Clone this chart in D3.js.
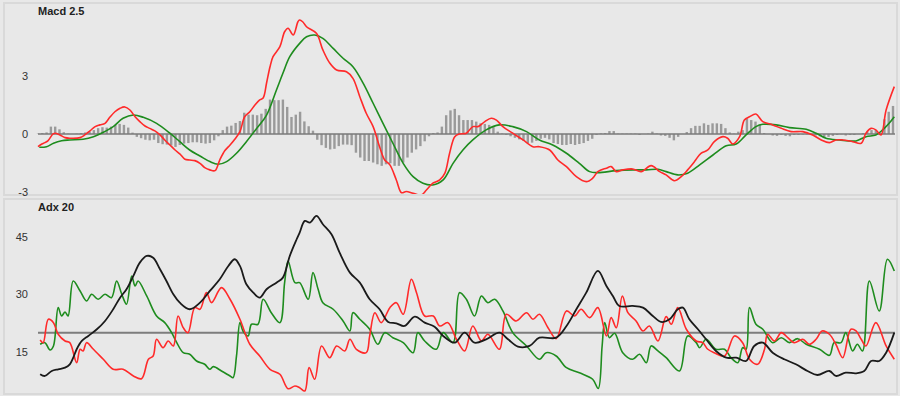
<!DOCTYPE html>
<html>
<head>
<meta charset="utf-8">
<script src="https://cdn.jsdelivr.net/npm/d3@7"></script>
<style>
    html, body { margin: 0; padding: 0; background: #e8e8e8; }
    svg { display: block; font-family: 'Liberation Sans', Arial, sans-serif; }
</style>
</head>
<body>
<svg width="900" height="396"></svg>
<script>
// ---------------------------------------------------------
// Data (day index, value)
const macdLine = [[0,-0.66],[0.9,-0.52],[1.6,-0.45],[2.3,-0.36],[3.5,0.0],[4.0,0.04],[5.1,-0.05],[6.3,-0.19],[7.4,-0.22],[9.8,-0.19],[10.9,-0.05],[12.1,0.16],[13.3,0.38],[14.4,0.47],[15.6,0.55],[16.7,0.86],[17.9,1.15],[19.1,1.33],[20.2,1.40],[21.4,1.24],[22.6,0.89],[23.7,0.64],[24.9,0.41],[26.0,0.29],[27.2,0.16],[28.4,-0.05],[29.5,-0.31],[30.7,-0.57],[31.9,-0.83],[33.0,-1.03],[34.2,-1.31],[35.3,-1.35],[36.5,-1.38],[37.7,-1.52],[38.8,-1.74],[40.0,-1.86],[41.2,-1.90],[42.3,-1.35],[43.5,-0.86],[44.7,-0.57],[45.8,-0.27],[47.0,0.12],[48.1,0.89],[49.3,1.15],[50.5,1.50],[51.6,1.76],[52.4,1.86],[53.2,2.64],[54.0,3.48],[54.7,4.00],[56.3,4.52],[57.4,5.29],[58.2,5.47],[59.4,5.12],[60.5,5.81],[60.9,5.90],[61.6,5.81],[62.5,5.55],[64.8,5.21],[66.3,4.35],[67.9,3.67],[69.5,3.31],[71.8,3.22],[73.3,2.88],[74.9,1.93],[76.4,1.07],[78.0,0.38],[79.5,-0.66],[80.7,-1.35],[81.9,-1.60],[83.4,-2.38],[84.6,-3.04],[85.7,-2.98],[87.3,-3.07],[89.2,-3.16],[90.4,-2.90],[91.9,-2.55],[93.5,-2.38],[94.7,-2.03],[95.8,-1.00],[97.0,-0.14],[98.1,0.0],[99.7,0.04],[101.2,0.38],[102.4,0.38],[104.0,0.64],[105.5,0.81],[106.7,0.72],[108.2,0.38],[110.5,0.04],[112.9,-0.31],[115.2,-0.66],[116.7,-0.66],[119.1,-0.83],[121.0,-1.35],[123.0,-1.69],[125.3,-2.21],[127.6,-2.47],[129.1,-2.29],[130.3,-1.95],[132.3,-1.77],[133.4,-1.69],[134.6,-1.95],[136.1,-1.86],[138.4,-1.81],[140.4,-1.95],[142.7,-1.64],[144.7,-1.95],[146.2,-2.12],[148.1,-2.42],[149.7,-2.21],[151.2,-1.86],[152.8,-1.43],[154.3,-1.00],[155.9,-0.83],[157.4,-0.40],[159.4,-0.14],[160.5,-0.22],[161.7,-0.52],[163.3,-0.14],[164.4,0.72],[165.6,0.89],[167.1,1.03],[168.7,0.64],[171.0,0.47],[173.0,0.29],[175.3,0.12],[178.0,0.12],[180.3,-0.05],[182.3,-0.31],[184.2,-0.45],[185.7,-0.31],[187.3,-0.31],[189.6,-0.40],[191.6,-0.48],[192.7,0.04],[193.9,0.29],[195.0,0.21],[196.2,-0.05],[197.4,1.24],[199.3,2.45]];

const signalLine = [[0.3,-0.69],[2.0,-0.66],[3.6,-0.48],[5.5,-0.35],[7.4,-0.31],[10.5,-0.27],[12.9,-0.14],[15.2,0.09],[17.5,0.38],[19.8,0.81],[22.2,0.98],[24.5,0.86],[27.6,0.55],[30.7,0.04],[33.0,-0.40],[35.3,-0.83],[37.7,-1.14],[40.0,-1.43],[41.9,-1.57],[43.9,-1.43],[46.2,-1.00],[48.5,-0.40],[50.9,0.29],[53.2,0.98],[55.5,2.28],[57.0,3.14],[58.6,4.00],[60.9,4.69],[62.5,5.03],[64.4,5.12],[66.3,4.95],[68.7,4.43],[71.0,3.92],[73.3,3.48],[75.7,2.62],[78.0,1.59],[80.3,0.55],[82.6,-0.48],[85.0,-1.52],[87.3,-2.21],[89.6,-2.55],[91.9,-2.64],[94.3,-2.38],[96.6,-1.52],[98.9,-0.83],[101.2,-0.31],[104.3,0.21],[107.4,0.47],[110.5,0.38],[113.7,0.12],[116.7,-0.31],[119.8,-0.57],[123.0,-1.00],[126.0,-1.52],[128.4,-1.95],[130.3,-2.00],[134.6,-1.90],[138.4,-1.86],[141.6,-1.86],[144.3,-1.83],[146.2,-1.95],[148.9,-2.12],[151.2,-2.03],[154.0,-1.60],[157.1,-1.09],[160.2,-0.61],[162.5,-0.52],[164.8,-0.05],[167.1,0.38],[168.7,0.50],[171.8,0.47],[174.9,0.33],[178.8,0.24],[181.1,0.04],[183.4,-0.22],[186.5,-0.31],[190.4,-0.36],[192.7,-0.14],[195.0,-0.05],[196.6,0.21],[198.1,0.55],[199.3,0.89]];

const histValues = [0.02,0.05,0.08,0.38,0.38,0.24,0.09,0.02,0,0.02,0.05,0.08,0.12,0.2,0.3,0.35,0.33,0.38,0.47,0.52,0.47,0.33,0.07,-0.15,-0.22,-0.3,-0.33,-0.3,-0.47,-0.53,-0.55,-0.6,-0.67,-0.57,-0.5,-0.47,-0.43,-0.43,-0.47,-0.5,-0.47,-0.33,-0.12,0.2,0.38,0.43,0.57,0.67,1.1,1.0,1.0,0.97,1.05,1.3,1.78,1.75,1.75,1.78,1.4,0.88,1.0,
    1.15,0.65,0.4,0.17,-0.3,-0.58,-0.72,-0.8,-0.77,-0.63,-0.55,-0.55,-0.58,-0.97,-1.22,-1.4,-1.4,-1.48,-1.57,-1.65,-1.57,-1.52,-1.65,-1.65,-1.48,-1.22,-0.97,-0.8,-0.63,-0.38,-0.12,0.05,0.08,0.38,0.97,1.22,1.3,0.97,0.72,0.72,0.72,0.64,0.55,0.52,0.47,0.41,0.12,0.03,-0.05,-0.12,-0.2,-0.28,-0.36,-0.47,-0.45,-0.36,-0.25,-0.2,-0.28,-0.47,-0.52,-0.57,-0.57,-0.52,-0.57,-0.52,-0.47,-0.36,-0.25,-0.05,
    0.03,0.05,0.15,0.15,0.02,0.02,0.02,0.02,0.02,-0.05,0,0.02,0.12,0.03,-0.08,-0.1,-0.2,-0.33,-0.15,0,0.1,0.3,0.42,0.42,0.55,0.47,0.55,0.55,0.52,0.3,0.08,0.02,0.12,0.2,0.8,0.72,0.64,0.47,0.05,0,-0.08,-0.1,-0.05,-0.1,-0.12,-0.05,-0.05,-0.03,-0.03,-0.03,-0.08,-0.12,-0.2,-0.15,-0.1,-0.05,-0.02,-0.08,-0.05,-0.05,0,0.05,0.12,0.2,0.2,0.05,0.76,1.15,1.45];

const adxLine = [[0.5,9.18],[1.6,8.74],[3.2,10.04],[4.7,10.49],[6.3,10.91],[7.4,11.79],[8.2,13.51],[9.0,15.71],[10.2,17.87],[11.7,19.18],[13.7,20.92],[15.6,23.09],[17.5,26.14],[19.1,29.17],[20.6,31.36],[22.2,34.83],[23.7,38.30],[25.3,40.05],[26.8,39.60],[28.4,36.58],[29.9,33.52],[31.5,30.05],[33.0,27.86],[35.3,26.14],[37.7,27.86],[40.0,30.92],[42.3,33.97],[44.3,37.44],[45.8,39.19],[47.0,37.44],[48.5,32.66],[50.1,30.47],[51.6,29.17],[53.2,31.36],[55.5,33.08],[57.0,34.39],[58.6,40.05],[60.2,44.40],[60.9,46.13],[62.1,49.18],[63.3,48.73],[64.8,50.48],[66.3,48.32],[68.3,45.71],[70.2,40.91],[72.6,35.69],[74.9,33.08],[77.2,28.75],[79.5,26.14],[81.5,22.83],[83.4,22.49],[85.3,21.78],[87.7,24.21],[90.0,22.65],[92.3,21.60],[94.3,19.18],[97.0,17.43],[99.3,20.04],[101.6,17.43],[104.3,18.31],[107.4,20.04],[109.4,18.31],[111.7,16.38],[114.4,16.57],[116.7,18.73],[120.6,18.73],[123.0,21.78],[125.3,26.14],[127.6,30.47],[130.3,36.13],[132.3,32.22],[133.8,29.61],[135.3,27.00],[138.4,27.00],[140.8,26.56],[143.1,24.39],[145.0,22.83],[147.0,23.53],[148.9,26.14],[150.1,26.56],[151.6,23.53],[153.6,20.92],[155.5,18.31],[157.8,15.26],[160.2,13.51],[162.5,13.51],[164.8,12.65],[166.7,16.57],[168.7,17.43],[171.0,14.82],[173.7,13.10],[176.4,11.79],[179.1,10.04],[181.4,9.00],[184.2,10.04],[185.7,8.74],[188.0,9.60],[190.4,9.44],[192.3,10.04],[193.9,12.65],[195.8,12.65],[197.4,14.82],[199.3,20.04]];

const plusDiLine = [[0.5,17.01],[1.6,17.43],[2.8,15.52],[3.6,16.57],[4.7,26.56],[5.5,24.39],[6.3,25.44],[7.0,24.39],[8.2,33.52],[9.8,30.92],[11.3,28.31],[12.5,30.05],[14.0,28.75],[15.6,30.05],[17.1,29.17],[18.3,33.52],[19.5,30.05],[20.6,27.45],[21.8,34.83],[22.6,32.22],[23.3,33.52],[25.3,29.61],[27.6,24.39],[29.5,22.65],[31.1,20.04],[32.3,17.43],[33.8,14.82],[35.3,14.40],[36.9,12.65],[38.8,11.79],[40.0,10.49],[40.8,11.17],[42.7,10.04],[44.7,8.74],[45.4,8.30],[46.2,13.96],[47.0,22.65],[47.7,20.48],[48.9,19.18],[49.7,22.23],[51.2,22.23],[52.4,28.75],[54.3,25.25],[56.3,22.65],[57.4,33.08],[58.2,38.74],[59.8,33.08],[60.9,33.08],[62.9,28.75],[64.0,35.69],[65.2,31.36],[66.3,27.86],[68.7,26.14],[71.0,23.09],[72.6,20.48],[73.3,25.25],[74.9,23.53],[77.2,20.92],[79.1,17.01],[80.7,20.04],[82.6,18.73],[85.0,17.43],[87.3,14.82],[88.4,20.04],[90.0,17.87],[92.7,15.71],[94.3,20.04],[96.6,17.43],[98.1,30.47],[99.7,28.75],[101.6,24.39],[103.2,29.61],[104.7,27.86],[106.3,28.75],[108.2,25.70],[110.5,20.04],[113.7,16.57],[116.7,13.10],[118.3,14.82],[120.6,13.96],[123.0,10.91],[126.0,9.60],[129.1,7.88],[130.4,5.48],[131.3,16.57],[131.9,22.65],[133.0,18.73],[134.2,19.88],[136.1,14.82],[138.4,13.10],[140.0,14.40],[141.6,12.21],[142.7,16.57],[144.3,15.26],[146.2,13.51],[149.3,10.04],[151.2,19.18],[153.2,17.43],[154.0,16.12],[155.5,18.31],[157.8,15.71],[159.8,15.71],[161.3,13.51],[162.9,12.21],[164.0,16.12],[164.8,15.71],[165.6,26.56],[167.1,22.23],[168.7,20.92],[171.0,17.43],[173.0,18.73],[174.9,17.43],[176.8,18.47],[178.8,17.01],[181.9,15.71],[184.2,14.14],[185.3,17.43],[186.9,17.43],[188.0,20.04],[189.6,15.26],[190.7,17.01],[191.9,15.26],[193.5,33.52],[195.8,25.70],[197.7,39.19],[199.3,36.13]];

const minusDiLine = [[0.5,18.13],[1.2,17.43],[2.4,23.53],[3.6,22.65],[4.7,19.62],[6.3,17.87],[7.4,17.43],[9.0,12.21],[9.8,15.71],[10.5,15.26],[11.3,17.43],[12.9,15.71],[15.2,13.10],[17.5,10.49],[19.8,10.49],[22.2,8.74],[24.1,8.04],[25.7,13.10],[26.8,13.96],[27.6,18.31],[29.1,16.12],[30.3,17.87],[31.5,16.57],[32.6,24.39],[33.8,21.34],[34.9,20.04],[36.5,26.56],[37.7,26.14],[39.2,30.47],[40.4,27.86],[42.7,31.78],[44.7,28.75],[47.0,23.53],[49.3,17.01],[51.6,13.96],[54.0,10.49],[56.3,9.18],[58.2,5.43],[59.8,6.13],[60.9,5.69],[62.1,4.83],[63.1,10.91],[64.4,7.88],[66.0,16.57],[67.9,13.51],[69.5,16.57],[71.4,15.26],[72.6,18.31],[74.1,15.71],[76.4,14.82],[77.2,19.18],[78.4,25.25],[79.9,22.65],[81.9,26.56],[83.4,27.86],[85.0,24.84],[86.9,33.97],[88.1,30.47],[90.0,24.39],[92.0,24.39],[93.5,21.78],[95.4,22.65],[97.4,18.31],[99.3,15.26],[101.2,21.78],[103.2,17.87],[104.7,19.62],[107.4,15.71],[109.0,24.84],[111.3,23.09],[113.7,25.25],[115.2,23.53],[116.7,24.84],[118.7,21.34],[120.6,18.47],[123.0,25.70],[124.9,24.39],[126.4,26.14],[128.4,23.95],[130.3,26.56],[132.3,19.18],[133.4,23.95],[134.6,21.34],[136.0,29.61],[137.3,25.25],[139.2,23.09],[140.8,20.48],[142.3,21.78],[144.3,17.87],[146.2,24.21],[147.4,22.23],[148.9,26.56],[150.9,20.92],[153.2,17.87],[154.7,17.43],[155.9,15.71],[157.4,14.82],[159.8,13.96],[162.1,19.18],[164.0,17.43],[165.6,13.10],[167.5,11.79],[169.1,15.71],[169.8,19.62],[171.4,17.87],[173.0,20.04],[174.5,18.73],[176.0,17.43],[178.0,18.31],[179.5,17.01],[181.1,18.31],[182.5,20.48],[184.2,19.62],[185.7,17.01],[187.3,13.51],[189.2,20.92],[190.4,20.48],[191.6,18.31],[192.7,16.57],[195.0,22.65],[197.4,16.57],[199.3,13.10]];

const macdTicks = [-3, 0, 3];
const adxTicks = [15, 30, 45];
const adxLevel = 20;

// ---------------------------------------------------------
// Layout
const svg = d3.select('svg');
const plotLeft = 38;
const plotRight = 893;
const panels = {
    macd: { top: 3, bottom: 195, domain: [-3.16, 6.78], title: 'Macd 2.5' },
    adx: { top: 199, bottom: 394, domain: [4.04, 54.9], title: 'Adx 20' }
};

var xScale = d3.scaleLinear().domain([0, histValues.length - 1]).range([plotLeft, plotRight]);
var yMacd = d3.scaleLinear().domain(panels.macd.domain).range([panels.macd.bottom, panels.macd.top]);
var yAdx = d3.scaleLinear().domain(panels.adx.domain).range([panels.adx.bottom, panels.adx.top]);

// panel frames + clip paths
Object.entries(panels).forEach(([key, p]) => {
    svg.append('rect')
        .attr('x', 4).attr('y', p.top)
        .attr('width', 893).attr('height', p.bottom - p.top)
        .attr('fill', '#e8e8e8')
        .attr('stroke', '#d9d9d9')
        .attr('stroke-width', 2);
    svg.append('clipPath').attr('id', 'clip-' + key)
        .append('rect')
        .attr('x', 5).attr('y', p.top + 1)
        .attr('width', 891).attr('height', p.bottom - p.top - 2);
    svg.append('text')
        .text(p.title)
        .attr('x', plotLeft)
        .attr('y', p.top + 12)
        .style('font-size', '11px')
        .style('font-weight', 'bold')
        .attr('fill', '#222');
});

// ---------------------------------------------------------
// Axes (labels only)
function drawTicks(scale, ticks) {
    var axis = d3.axisLeft(scale)
        .tickValues(ticks)
        .tickFormat((d) => String(d))
        .tickSize(0)
        .tickPadding(0);
    var g = svg.append('g').attr('transform', 'translate(28,0)').call(axis);
    g.select('.domain').remove();
    g.selectAll('text')
        .attr('fill', '#333')
        .style('font-size', '11px')
        .style('font-family', "'Liberation Sans', Arial, sans-serif");
}
drawTicks(yMacd, macdTicks);
drawTicks(yAdx, adxTicks);

// ---------------------------------------------------------
// MACD panel
var macdG = svg.append('g').attr('clip-path', 'url(#clip-macd)');

macdG.selectAll('rect.bar')
    .data(histValues)
    .enter()
    .append('rect')
    .attr('class', 'bar')
    .attr('x', (d, i) => xScale(i) - 1.2)
    .attr('width', 2.4)
    .attr('y', (d) => Math.min(yMacd(d), yMacd(0)))
    .attr('height', (d) => Math.abs(yMacd(d) - yMacd(0)))
    .attr('fill', '#9a9a9a');

macdG.append('line')
    .attr('x1', plotLeft).attr('x2', plotRight + 2)
    .attr('y1', yMacd(0)).attr('y2', yMacd(0))
    .attr('stroke', '#7a7a7a')
    .attr('stroke-width', 1.5);

function lineGen(yScale) {
    return d3.line()
        .x((d) => xScale(d[0]))
        .y((d) => yScale(d[1]))
        .curve(d3.curveCatmullRom.alpha(0.5));
}

macdG.append('path').datum(signalLine)
    .attr('d', lineGen(yMacd))
    .attr('fill', 'none').attr('stroke', '#1e8c1e').attr('stroke-width', 1.6);
macdG.append('path').datum(macdLine)
    .attr('d', lineGen(yMacd))
    .attr('fill', 'none').attr('stroke', '#ff2a2a').attr('stroke-width', 1.6);

// ---------------------------------------------------------
// ADX panel
var adxG = svg.append('g').attr('clip-path', 'url(#clip-adx)');

adxG.append('line')
    .attr('x1', plotLeft).attr('x2', plotRight + 2)
    .attr('y1', yAdx(adxLevel)).attr('y2', yAdx(adxLevel))
    .attr('stroke', '#7d7d7d')
    .attr('stroke-width', 2);

adxG.append('path').datum(plusDiLine)
    .attr('d', lineGen(yAdx))
    .attr('fill', 'none').attr('stroke', '#1e8c1e').attr('stroke-width', 1.6);
adxG.append('path').datum(minusDiLine)
    .attr('d', lineGen(yAdx))
    .attr('fill', 'none').attr('stroke', '#ff2a2a').attr('stroke-width', 1.6);
adxG.append('path').datum(adxLine)
    .attr('d', lineGen(yAdx))
    .attr('fill', 'none').attr('stroke', '#1a1a1a').attr('stroke-width', 1.8);
</script>
</body>
</html>
